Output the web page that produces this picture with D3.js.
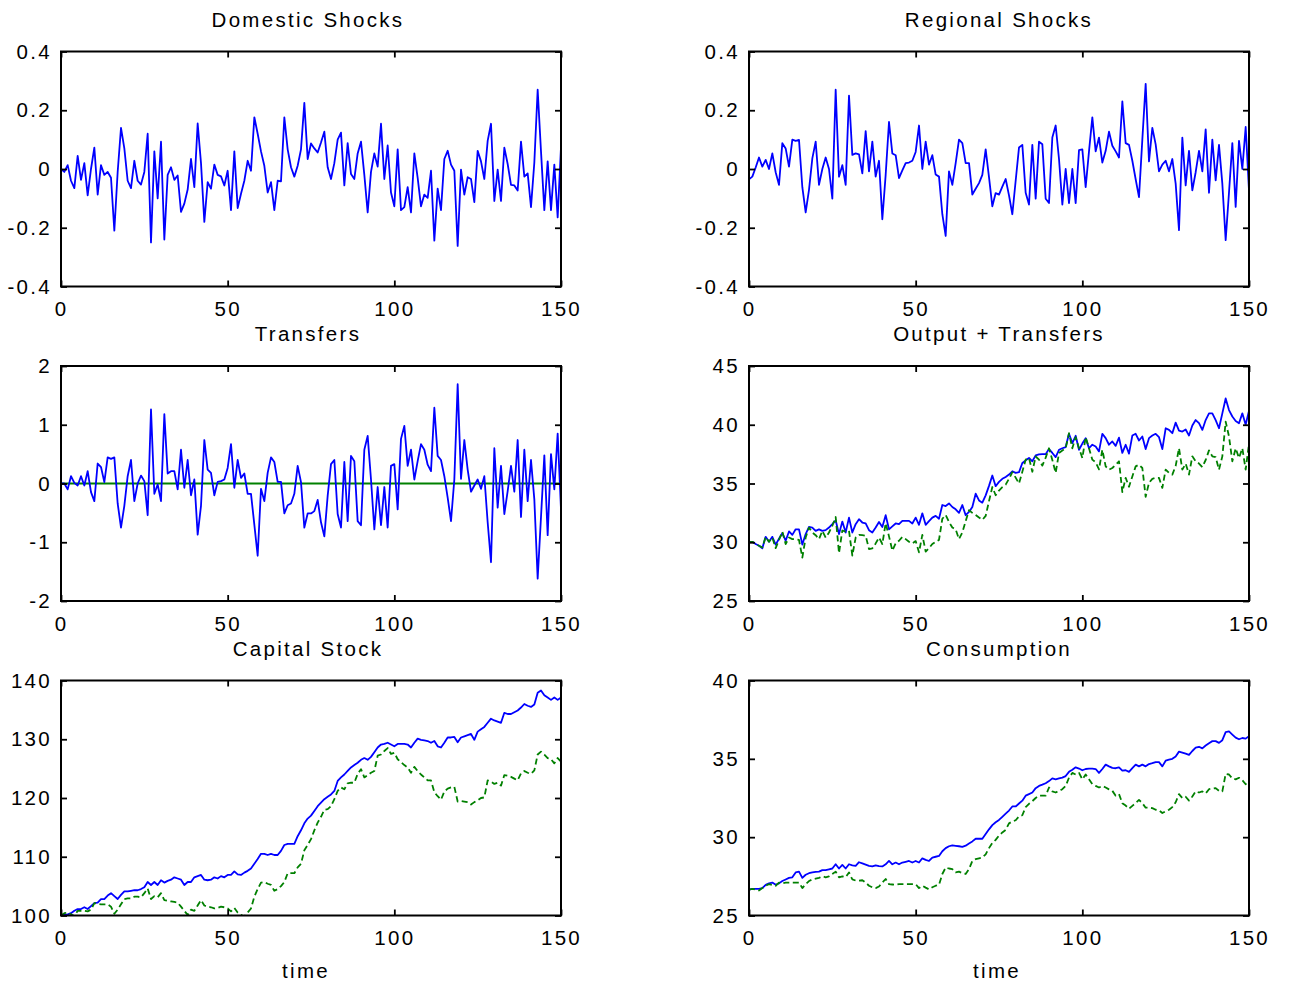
<!DOCTYPE html>
<html>
<head>
<meta charset="utf-8">
<script src="https://cdn.jsdelivr.net/npm/d3@7"></script>
<style>
  body { margin: 0; background: #ffffff; }
  svg text { font-family: "Liberation Sans", Arial, Helvetica, sans-serif; letter-spacing: 2.3px; fill: #000; }
</style>
</head>
<body>
<svg id="chart" width="1294" height="988"></svg>
<script>
// ---- data -------------------------------------------------------------
const time = d3.range(0, 151);

const domesticShocks = [
  0.0, -0.01, 0.013, -0.04, -0.065, 0.045, -0.037, 0.02, -0.09, 0.0,
  0.073, -0.087, 0.013, -0.02, -0.01, -0.03, -0.21, -0.01, 0.14, 0.07,
  -0.04, -0.065, 0.028, -0.04, -0.053, -0.01, 0.12, -0.25, 0.06, -0.1,
  0.093, -0.24, -0.02, 0.006, -0.037, -0.022, -0.146, -0.118, -0.07, 0.034,
  -0.062, 0.155, 0.02, -0.18, -0.045, -0.067, 0.015, -0.02, -0.025, -0.056,
  -0.006, -0.14, 0.06, -0.133, -0.084, -0.04, 0.028, -0.006, 0.176, 0.12,
  0.06, 0.011, -0.08, -0.045, -0.14, -0.04, -0.042, 0.176, 0.067, 0.006,
  -0.026, 0.011, 0.067, 0.225, 0.034, 0.087, 0.07, 0.056, 0.09, 0.127,
  0.006, -0.034, 0.02, 0.1, 0.124, -0.056, 0.088, -0.017, -0.034, 0.053,
  0.093, -0.02, -0.148, -0.01, 0.053, 0.008, 0.154, -0.034, 0.08, -0.08,
  -0.127, 0.067, -0.14, -0.13, -0.062, -0.148, 0.053, -0.03, -0.127, -0.087,
  -0.098, -0.006, -0.244, -0.067, -0.14, 0.034, 0.062, 0.015, -0.006, -0.262,
  -0.002, -0.087, -0.028, -0.034, -0.113, 0.062, 0.026, -0.034, 0.096, 0.154,
  -0.109, -0.002, -0.109, 0.073, 0.017, -0.054, -0.056, -0.073, 0.093, -0.026,
  -0.015, -0.13, 0.022, 0.27, 0.06, -0.14, 0.026, -0.14, 0.015, -0.165,
  0.075
];

const regionalShocks = [
  -0.035, -0.026, 0.005, 0.039, 0.008, 0.031, 0.0, 0.053, -0.011, -0.054,
  0.088, 0.07, 0.008, 0.1, 0.096, 0.099, -0.062, -0.148, -0.071, 0.036,
  0.093, -0.054, 0.0, 0.039, 0.0, -0.101, 0.27, -0.026, 0.013, -0.054,
  0.25, 0.048, 0.053, 0.05, -0.015, 0.129, -0.008, 0.093, -0.026, 0.028,
  -0.171, -0.02, 0.16, 0.053, 0.047, -0.031, -0.005, 0.02, 0.022, 0.028,
  0.058, 0.148, 0.0, 0.093, 0.015, 0.047, -0.019, -0.026, -0.154, -0.228,
  -0.008, -0.054, 0.02, 0.1, 0.088, 0.02, 0.02, -0.087, -0.067, -0.048,
  -0.02, 0.067, -0.028, -0.127, -0.082, -0.087, -0.06, -0.034, -0.09, -0.154,
  -0.04, 0.073, 0.082, -0.081, -0.121, 0.082, -0.101, 0.093, 0.084, -0.101,
  -0.116, 0.107, 0.148, 0.034, -0.121, 0.0, -0.116, 0.0, -0.116, 0.064,
  0.067, -0.062, 0.06, 0.176, 0.06, 0.107, 0.022, 0.062, 0.127, 0.079,
  0.06, 0.039, 0.23, 0.088, 0.082, 0.028, -0.035, -0.096, 0.1, 0.29,
  0.026, 0.14, 0.084, -0.008, 0.015, 0.028, -0.008, 0.034, -0.05, -0.208,
  0.107, -0.056, 0.062, -0.073, -0.011, 0.062, -0.008, 0.135, -0.081, 0.1,
  -0.039, 0.082, -0.05, -0.242, -0.08, 0.088, -0.129, 0.096, 0.0, 0.143,
  -0.073
];

const transfers = [
  0.0, 0.0, -0.1, 0.124, 0.01, -0.034, 0.124, -0.034, 0.21, -0.146,
  -0.3, 0.34, 0.28, 0.023, 0.445, 0.42, 0.445, -0.34, -0.75, -0.38,
  0.124, 0.4, -0.3, 0.0, 0.135, 0.04, -0.54, 1.26, -0.175, -0.017,
  -0.3, 1.18, 0.17, 0.21, 0.21, -0.1, 0.575, -0.073, 0.4, -0.2,
  0.068, -0.87, -0.38, 0.74, 0.237, 0.18, -0.2, 0.028, 0.04, 0.068,
  0.265, 0.67, -0.073, 0.4, 0.096, 0.17, -0.175, -0.175, -0.7, -1.23,
  -0.09, -0.3, 0.18, 0.445, 0.366, 0.028, 0.028, -0.51, -0.37, -0.34,
  -0.175, 0.3, 0.023, -0.75, -0.51, -0.51, -0.47, -0.28, -0.66, -0.9,
  -0.21, 0.33, 0.4, -0.52, -0.75, 0.366, -0.64, 0.47, 0.38, -0.64,
  -0.71, 0.575, 0.81, 0.068, -0.78, -0.06, -0.71, -0.06, -0.75, 0.3,
  0.33, -0.44, 0.76, 0.98, 0.3, 0.575, 0.068, 0.38, 0.67, 0.575,
  0.32, 0.21, 1.29, 0.47, 0.4, 0.124, -0.24, -0.64, 0.068, 1.69,
  0.08, 0.74, 0.237, -0.14, -0.034, 0.068, -0.09, 0.124, -0.66, -1.34,
  0.6, -0.41, 0.3, -0.52, -0.13, 0.3, -0.14, 0.74, -0.57, 0.575,
  -0.3, 0.4, -0.27, -1.62, -0.57, 0.48, -0.88, 0.5, -0.1, 0.85,
  -0.44
];
const transfersReference = 0;

const outputWithTransfers = [
  30.0, 30.04, 29.85, 29.7, 29.48, 30.46, 30.04, 30.46, 29.8, 30.3,
  30.77, 30.13, 30.92, 30.63, 31.1, 31.1, 29.8, 30.7, 31.3, 31.25,
  30.97, 31.1, 30.97, 31.03, 31.25, 31.55, 31.87, 30.69, 31.76, 30.83,
  32.1, 30.83, 31.54, 31.96, 31.68, 31.6, 31.03, 30.83, 31.25, 31.73,
  31.3, 32.3, 31.1, 31.35, 31.6, 31.54, 31.82, 31.82, 31.82, 31.6,
  32.1, 31.48, 32.46, 31.48, 31.8, 32.1, 32.24, 32.0, 33.17, 33.08,
  33.3, 33.0, 32.8, 32.5, 33.17, 32.3, 32.58, 33.0, 34.13, 33.56,
  33.37, 33.99, 34.8, 35.68, 34.77, 35.14, 35.4, 35.56, 35.76, 36.04,
  35.9, 35.96, 36.75, 36.97, 37.17, 36.89, 37.39, 37.48, 37.5, 37.5,
  37.93, 37.6, 37.25, 37.87, 38.0, 38.1, 39.23, 38.44, 39.06, 37.87,
  38.4, 38.86, 38.0, 38.3, 38.15, 37.73, 39.23, 38.86, 38.3, 38.58,
  38.2, 38.9, 37.6, 38.3, 37.54, 39.08, 39.23, 38.66, 39.0, 37.93,
  38.86, 39.08, 39.23, 38.94, 37.93, 39.7, 39.56, 39.28, 40.18, 39.5,
  39.42, 39.6, 39.08, 39.93, 40.4, 40.13, 39.56, 40.4, 40.97, 40.97,
  40.4, 39.7, 40.97, 42.24, 41.25, 40.7, 40.32, 40.13, 40.97, 40.0,
  41.2
];
const outputOnly = [
  30.0, 30.04, 29.85, 29.7, 29.56, 30.46, 30.04, 30.4, 29.5, 30.2,
  30.9, 29.85, 30.4, 30.27, 30.25, 30.2, 28.7, 30.4, 31.25, 30.83,
  30.6, 30.27, 30.97, 30.4, 30.83, 31.4, 32.15, 29.08, 31.0, 30.9,
  30.97, 28.86, 30.4, 30.63, 30.6, 30.55, 29.42, 29.48, 29.9, 30.4,
  29.85, 31.62, 30.5, 29.28, 29.9, 30.13, 30.46, 30.27, 30.04, 29.9,
  30.1, 29.14, 30.63, 29.2, 29.5, 29.85, 30.04, 30.2, 32.0, 32.32,
  31.73, 31.25, 31.1, 30.27, 30.83, 31.8, 32.72, 32.5, 32.32, 32.1,
  31.9, 32.24, 33.5, 34.7, 34.0, 34.4, 34.69, 34.9, 35.4, 35.96,
  35.5, 35.0, 36.0, 37.03, 37.17, 36.0, 37.3, 37.03, 36.52, 37.2,
  38.0, 37.0, 35.9, 37.6, 37.8, 38.0, 39.28, 38.0, 38.94, 38.0,
  37.17, 38.94, 38.0, 37.03, 36.8, 36.2, 37.87, 36.46, 36.18, 36.32,
  36.6, 36.89, 34.27, 35.48, 34.72, 35.6, 36.46, 36.6, 36.32, 33.87,
  35.06, 35.4, 35.48, 35.48, 34.63, 36.18, 35.9, 35.76, 36.5, 38.0,
  36.18, 36.69, 35.76, 37.31, 36.89, 36.7, 36.4, 37.0, 37.82, 37.31,
  37.25, 36.18, 37.31, 40.27, 39.0, 36.89, 38.0, 37.17, 38.0, 36.18,
  38.38
];

const capitalWithTransfers = [
  100.0, 100.1, 100.2, 100.4, 100.8, 101.1, 101.1, 101.4, 101.1, 101.6,
  102.1, 102.2, 102.8, 102.8, 103.4, 103.8, 103.3, 102.8, 103.5, 104.1,
  104.1, 104.2, 104.3, 104.3, 104.5, 104.8, 105.7, 105.2, 105.7, 105.2,
  106.0, 105.6, 105.9, 106.1, 106.5, 106.3, 106.1, 105.2, 105.7, 105.7,
  106.5, 106.7, 106.9, 106.1, 106.0, 106.1, 106.5, 106.3, 106.7, 106.5,
  106.9, 106.9, 107.5, 107.0, 106.9, 107.3, 107.6, 108.0, 108.8, 109.6,
  110.5, 110.5, 110.3, 110.5, 110.3, 110.3, 111.0, 112.0, 112.2, 112.2,
  112.2, 113.5, 114.5, 115.7, 116.5, 117.0, 117.8, 118.6, 119.2, 119.8,
  120.2, 120.6, 121.2, 122.9, 123.5, 124.0, 124.6, 125.2, 125.6, 126.0,
  126.5, 126.8, 126.5, 127.0, 127.8, 128.6, 129.1, 129.2, 129.4, 129.1,
  128.8, 129.2, 129.2, 129.2, 129.1, 128.6, 129.4, 130.1, 129.9, 129.8,
  129.7, 129.4, 129.7, 128.8, 128.6, 129.4, 130.3, 130.3, 130.4, 129.5,
  130.3, 130.5, 130.7, 130.9, 129.9, 131.3, 131.7, 132.1, 132.8, 133.5,
  133.2, 133.0, 132.8, 134.5, 134.3, 134.3, 134.6, 134.9, 135.4, 136.0,
  135.7, 135.5, 135.9, 137.9, 138.3, 137.5, 137.1, 136.7, 137.1, 136.7,
  137.1
];
const capitalOnly = [
  100.0, 100.4, 100.5, 100.2, 99.9, 100.8, 100.8, 100.8, 100.7, 101.0,
  102.1, 102.0, 101.9, 101.9, 101.9, 101.5, 100.3, 101.0, 101.9, 102.8,
  102.9, 102.9, 103.2, 103.2, 103.1, 103.8, 104.6, 102.8, 103.3, 103.1,
  103.8, 102.6, 102.5, 102.4, 102.3, 102.2, 101.5, 100.8, 100.1, 101.0,
  100.8, 101.7, 102.6, 101.7, 101.5, 101.4, 101.2, 101.3, 101.5, 101.4,
  101.2, 100.7, 101.3, 100.5, 100.1, 99.8, 100.5, 101.2, 103.2, 104.5,
  105.6, 105.7, 105.4, 105.2, 104.2, 104.5, 105.0, 105.7, 107.2, 107.2,
  107.2, 108.2, 108.8, 111.1, 112.0, 113.0, 114.5, 115.8, 116.8, 118.0,
  118.1, 118.6, 119.8, 121.2, 121.8, 121.5, 122.5, 122.6, 122.6, 124.1,
  124.9, 123.5, 123.9, 124.3, 124.6, 127.2, 127.4, 128.0, 128.5, 127.5,
  127.7, 126.6, 126.1, 125.6, 125.2, 124.3, 125.3, 124.6, 124.0, 123.5,
  123.0, 123.0, 121.0, 120.3, 119.7, 121.1, 121.6, 121.8, 121.9, 119.4,
  119.5, 119.4, 119.3, 118.9, 119.3, 119.6, 120.0, 120.1, 123.0, 122.8,
  122.4, 122.6, 122.1, 123.9, 123.8, 123.6, 123.3, 123.0, 124.2, 124.6,
  124.3, 124.1, 124.7, 127.4, 127.9, 127.4, 126.8, 126.6, 125.9, 126.8,
  126.2
];

const consumptionWithTransfers = [
  26.65, 26.7, 26.7, 26.7, 26.75, 26.96, 27.05, 27.1, 26.96, 27.05,
  27.2, 27.3, 27.4, 27.44, 27.75, 27.8, 27.4, 27.6, 27.7, 27.75,
  27.78, 27.8, 27.9, 27.9, 27.95, 28.0, 28.27, 28.0, 28.23, 28.0,
  28.27, 28.2, 28.17, 28.4, 28.33, 28.25, 28.17, 28.13, 28.2, 28.15,
  28.13, 28.27, 28.48, 28.27, 28.38, 28.27, 28.38, 28.43, 28.48, 28.38,
  28.48, 28.38, 28.65, 28.55, 28.48, 28.7, 28.75, 28.8, 29.1, 29.3,
  29.42, 29.48, 29.45, 29.42, 29.38, 29.46, 29.6, 29.73, 29.9, 29.9,
  29.9, 30.2, 30.5, 30.77, 30.95, 31.1, 31.3, 31.5, 31.7, 31.96,
  31.96, 32.15, 32.33, 32.65, 32.75, 32.85, 33.13, 33.27, 33.35, 33.44,
  33.58, 33.75, 33.69, 33.75, 33.8, 33.9, 34.17, 34.31, 34.46, 34.38,
  34.27, 34.35, 34.37, 34.38, 34.35, 34.1, 34.35, 34.63, 34.52, 34.42,
  34.4, 34.46, 34.25, 34.27, 34.17, 34.4, 34.63, 34.52, 34.63, 34.52,
  34.67, 34.72, 34.79, 34.79, 34.52, 34.88, 34.95, 35.0, 35.15, 35.46,
  35.4, 35.33, 35.25, 35.5, 35.71, 35.77, 35.67, 35.85, 36.0, 36.13,
  36.13, 36.02, 36.19, 36.71, 36.75, 36.55, 36.35, 36.25, 36.33, 36.29,
  36.45
];
const consumptionOnly = [
  26.65, 26.7, 26.65, 26.6, 26.75, 26.9, 27.0, 26.95, 26.9, 27.1,
  27.05, 27.1, 27.1, 27.1, 27.1, 27.1, 26.75, 27.0, 27.2, 27.3,
  27.35, 27.4, 27.5, 27.44, 27.5, 27.65, 27.8, 27.44, 27.5, 27.45,
  27.75, 27.3, 27.23, 27.23, 27.25, 27.1, 26.9, 26.8, 26.75, 26.85,
  27.1, 27.33, 27.0, 26.98, 26.96, 27.0, 27.0, 27.0, 27.0, 27.0,
  27.0, 26.75, 26.9, 26.78, 26.67, 26.8, 26.9, 26.96, 27.65, 28.06,
  28.0, 27.96, 27.75, 27.8, 27.7, 27.65, 27.96, 28.48, 28.6, 28.65,
  28.7, 28.9, 29.3, 29.63, 29.83, 30.1, 30.3, 30.46, 30.88, 31.0,
  31.08, 31.33, 31.4, 31.92, 32.13, 32.3, 32.5, 32.65, 32.65, 32.65,
  33.17, 32.92, 32.85, 32.95, 33.06, 33.27, 33.8, 34.1, 34.0, 34.1,
  33.69, 34.0, 33.7, 33.38, 33.27, 33.17, 33.27, 33.17, 33.05, 32.96,
  32.65, 32.75, 32.17, 32.02, 31.81, 32.0, 32.17, 32.38, 32.17, 31.88,
  31.88, 31.85, 31.75, 31.71, 31.54, 31.65, 31.75, 31.92, 32.23, 32.75,
  32.5, 32.58, 32.33, 32.6, 32.92, 32.85, 32.92, 32.79, 33.06, 33.1,
  33.13, 32.96, 32.92, 34.04, 34.0, 33.75, 33.69, 33.79, 33.63, 33.38,
  33.63
];

// tick values and their printed labels
const timeTicks = [0, 50, 100, 150];
const timeTickLabels = ["0", "50", "100", "150"];
const shockTicks = [0.4, 0.2, 0, -0.2, -0.4];
const shockTickLabels = ["0.4", "0.2", "0", "-0.2", "-0.4"];
const transferTicks = [2, 1, 0, -1, -2];
const transferTickLabels = ["2", "1", "0", "-1", "-2"];
const outputTicks = [45, 40, 35, 30, 25];
const outputTickLabels = ["45", "40", "35", "30", "25"];
const capitalTicks = [140, 130, 120, 110, 100];
const capitalTickLabels = ["140", "130", "120", "110", "100"];
const consumptionTicks = [40, 35, 30, 25];
const consumptionTickLabels = ["40", "35", "30", "25"];

// ---- layout -----------------------------------------------------------
const BLUE = "#0000ff", GREEN = "#008000";
const colX = [61, 749];
const rowY = [51.5, 366, 680.5];
const plotW = 500, plotH = 235;
const titleX = [247, 250];
const FONT_SIZE = 20.5;

const panels = [
  { title: "Domestic Shocks", col: 0, row: 0, domain: [-0.4, 0.4], ticks: shockTicks, labels: shockTickLabels,
    series: [{ values: domesticShocks, color: BLUE }] },
  { title: "Regional Shocks", col: 1, row: 0, domain: [-0.4, 0.4], ticks: shockTicks, labels: shockTickLabels,
    series: [{ values: regionalShocks, color: BLUE }] },
  { title: "Transfers", col: 0, row: 1, domain: [-2, 2], ticks: transferTicks, labels: transferTickLabels,
    series: [{ values: transfers, color: BLUE }], reference: transfersReference },
  { title: "Output + Transfers", col: 1, row: 1, domain: [25, 45], ticks: outputTicks, labels: outputTickLabels,
    series: [{ values: outputWithTransfers, color: BLUE }, { values: outputOnly, color: GREEN, dashed: true }] },
  { title: "Capital Stock", col: 0, row: 2, domain: [100, 140], ticks: capitalTicks, labels: capitalTickLabels, xlabel: "time",
    series: [{ values: capitalWithTransfers, color: BLUE }, { values: capitalOnly, color: GREEN, dashed: true }] },
  { title: "Consumption", col: 1, row: 2, domain: [25, 40], ticks: consumptionTicks, labels: consumptionTickLabels, xlabel: "time",
    series: [{ values: consumptionWithTransfers, color: BLUE }, { values: consumptionOnly, color: GREEN, dashed: true }] }
];

const svg = d3.select("#chart");
const x = d3.scaleLinear().domain([0, 150]).range([0, plotW]);

function styleAxis(sel) {
  sel.attr("font-size", FONT_SIZE).attr("font-family", null);
  sel.select(".domain").remove();
  sel.selectAll(".tick line").attr("stroke", "#000").attr("stroke-width", 1.8);
}

panels.forEach((p, i) => {
  const g = svg.append("g").attr("transform", `translate(${colX[p.col]},${rowY[p.row]})`);
  const y = d3.scaleLinear().domain(p.domain).range([plotH, 0]);

  const clipId = "clip" + i;
  g.append("clipPath").attr("id", clipId)
    .append("rect").attr("x", 0).attr("y", 0).attr("width", plotW).attr("height", plotH);

  const plot = g.append("g").attr("clip-path", `url(#${clipId})`);

  if (p.reference !== undefined) {
    plot.append("line")
      .attr("x1", x(0)).attr("x2", x(150))
      .attr("y1", y(p.reference)).attr("y2", y(p.reference))
      .attr("stroke", GREEN).attr("stroke-width", 1.8);
  }

  p.series.forEach(s => {
    const line = d3.line().x((d, k) => x(time[k])).y(d => y(d));
    plot.append("path")
      .datum(s.values)
      .attr("d", line)
      .attr("fill", "none")
      .attr("stroke", s.color)
      .attr("stroke-width", 1.8)
      .attr("stroke-linejoin", "round")
      .attr("stroke-dasharray", s.dashed ? "6,3.5" : null);
  });

  // axes: ticks point inward on all four sides, labels on left and bottom only
  g.append("g").attr("transform", `translate(0,${plotH})`)
    .call(d3.axisBottom(x).tickValues(timeTicks).tickFormat((d, k) => timeTickLabels[k]).tickSize(-6).tickPadding(15))
    .call(styleAxis);
  g.append("g")
    .call(d3.axisTop(x).tickValues(timeTicks).tickFormat("").tickSize(-6))
    .call(styleAxis);
  g.append("g")
    .call(d3.axisLeft(y).tickValues(p.ticks).tickFormat((d, k) => p.labels[k]).tickSize(-6).tickPadding(9))
    .call(styleAxis);
  g.append("g").attr("transform", `translate(${plotW},0)`)
    .call(d3.axisRight(y).tickValues(p.ticks).tickFormat("").tickSize(-6))
    .call(styleAxis);

  g.append("rect")
    .attr("x", 0).attr("y", 0).attr("width", plotW).attr("height", plotH)
    .attr("fill", "none").attr("stroke", "#000").attr("stroke-width", 2);

  g.append("text")
    .attr("x", titleX[p.col]).attr("y", -25)
    .attr("text-anchor", "middle").attr("font-size", FONT_SIZE)
    .text(p.title);

  if (p.xlabel) {
    g.append("text")
      .attr("x", titleX[p.col] - 2).attr("y", plotH + 62)
      .attr("text-anchor", "middle").attr("font-size", FONT_SIZE)
      .text(p.xlabel);
  }
});
</script>
</body>
</html>
